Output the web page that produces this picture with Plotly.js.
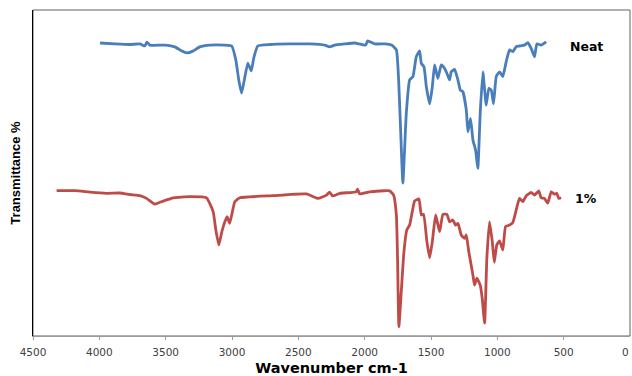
<!DOCTYPE html>
<html>
<head>
<meta charset="utf-8">
<script src="https://cdn.plot.ly/plotly-3.0.1.min.js"></script>
<style>html,body{margin:0;padding:0;background:#fff;}#chart{width:632px;height:376px;}</style>
</head>
<body>
<div id="chart"></div>
<script>
// Wavenumber (cm-1) and transmittance (arbitrary %, offset spectra)
const neatWavenumber = [3995,3883,3770,3694,3657,3642,3619,3506,3431,3378,3340,3295,3243,3167,3054,3002,2971,2949,2928,2907,2881,2855,2836,2806,2715,2565,2414,2301,2264,2226,2151,2075,1993,1977,1925,1849,1797,1761,1744,1729,1712,1686,1661,1636,1611,1586,1573,1553,1535,1510,1490,1473,1448,1423,1398,1380,1360,1347,1322,1297,1279,1260,1234,1222,1202,1184,1164,1147,1129,1109,1084,1064,1046,1029,1008,983,959,933,908,883,858,833,795,770,745,720,702,670,632];
const neatTransmittance = [98.0,97.7,97.5,97.7,97.0,98.3,97.3,97.3,96.7,95.3,94.7,95.3,96.7,97.3,97.3,97.0,92.3,85.7,81.3,85.7,91.3,88.7,93.0,97.0,97.5,97.7,97.7,97.3,96.7,97.3,97.7,98.0,97.3,98.7,97.7,97.7,97.3,95.7,85.7,69.0,51.3,74.7,85.7,86.8,93.4,95.4,91.2,90.1,83.4,77.7,83.4,90.7,86.2,90.7,89.6,87.9,85.7,88.4,89.2,85.7,82.3,81.8,75.7,68.4,72.9,65.7,62.3,56.2,74.7,88.4,77.3,82.9,82.3,77.7,86.8,88.4,86.8,91.8,95.7,95.1,96.8,97.0,97.3,98.1,96.2,93.4,97.7,97.3,98.4];

const onePctWavenumber = [4322,4184,4071,3945,3845,3770,3694,3644,3581,3519,3444,3318,3192,3142,3122,3099,3077,3054,3037,3017,2979,2941,2690,2439,2352,2288,2264,2241,2188,2063,2053,2038,1962,1812,1782,1761,1752,1742,1724,1704,1682,1661,1641,1624,1591,1573,1556,1531,1510,1490,1465,1435,1410,1380,1360,1335,1315,1297,1272,1247,1234,1215,1184,1172,1154,1129,1114,1096,1079,1059,1038,1023,1004,983,959,938,908,883,858,833,808,782,745,720,688,670,645,620,594,569,552,537,519];
const onePctTransmittance = [48.8,48.8,48.3,47.9,48.0,47.5,47.1,46.2,44.3,45.3,46.4,46.8,46.4,41.8,35.7,30.7,35.0,38.4,40.1,37.9,45.1,46.4,47.1,47.7,46.2,47.3,48.3,47.0,47.9,48.4,49.3,47.7,48.4,48.7,47.3,40.7,25.7,3.4,15.1,28.4,35.7,37.3,41.8,45.3,46.0,40.7,40.9,31.8,26.4,31.8,40.7,35.1,40.9,40.9,38.4,39.0,37.3,37.9,34.0,32.9,34.0,28.4,20.7,17.3,19.6,17.3,12.9,4.6,26.2,38.4,31.8,24.9,30.7,32.0,29.0,36.8,37.3,38.2,42.3,46.2,45.1,47.1,48.2,47.3,48.7,46.4,46.2,44.6,48.4,47.6,47.9,46.2,46.4];

const seriesNames = ["Neat", "1%"];
const xTickValues = [4500,4000,3500,3000,2500,2000,1500,1000,500,0];

const traces = [
  {x: neatWavenumber, y: neatTransmittance, name: seriesNames[0], type: "scatter", mode: "lines",
   line: {color: "#4a7ebb", width: 2.8, shape: "spline", smoothing: 0.4}},
  {x: onePctWavenumber, y: onePctTransmittance, name: seriesNames[1], type: "scatter", mode: "lines",
   line: {color: "#be4b48", width: 2.8, shape: "spline", smoothing: 0.4}}
];

const tickFont = {family: "DejaVu Sans, Verdana, sans-serif", size: 10.5, color: "#404040"};

const layout = {
  width: 632, height: 376,
  margin: {l: 33, r: 2, t: 10, b: 40, pad: 0},
  paper_bgcolor: "#ffffff", plot_bgcolor: "#ffffff",
  showlegend: false,
  xaxis: {
    range: [4500, 0], autorange: false,
    tickvals: xTickValues.slice(0, -1), ticktext: xTickValues.slice(0, -1).map(String),
    ticks: "outside", ticklen: 3, tickcolor: "#9a9a9a",
    ticklabelstandoff: 3,
    showline: true, linecolor: "#9a9a9a", linewidth: 1,
    showgrid: false, zeroline: false,
    tickfont: tickFont,
    title: {text: "Wavenumber cm-1", font: {family: "DejaVu Sans, Verdana, sans-serif", size: 14.5, color: "#000", weight: "bold"}, standoff: 7}
  },
  yaxis: {
    range: [0.33, 109], autorange: false,
    showticklabels: false, ticks: "",
    showline: true, linecolor: "#000000", linewidth: 1,
    showgrid: false, zeroline: false,
    title: {text: "<b>Transmittance %</b>", font: {family: "Liberation Sans Narrow, Arial Narrow, Liberation Sans, sans-serif", size: 13, color: "#000"}, standoff: 8}
  },
  shapes: [
    {type: "rect", xref: "paper", yref: "paper", x0: 0, x1: 1, y0: 0, y1: 1,
     line: {color: "#606060", width: 1}, layer: "below"}
  ],
  annotations: [
    {x: 0, y: 0, xref: "x", yref: "paper", xanchor: "right", yanchor: "middle", xshift: 1, yshift: -16,
     text: String(xTickValues[9]), showarrow: false, font: tickFont},
    {x: 330, y: 96.7, xref: "x", yref: "y", text: "<b>Neat</b>", showarrow: false,
     font: {family: "DejaVu Sans, Verdana, sans-serif", size: 12.5, color: "#000"}},
    {x: 330, y: 46, xref: "x", yref: "y", text: "<b>1%</b>", showarrow: false,
     font: {family: "DejaVu Sans, Verdana, sans-serif", size: 12.5, color: "#000"}}
  ]
};

Plotly.newPlot("chart", traces, layout, {staticPlot: true, displayModeBar: false});
</script>
</body>
</html>
